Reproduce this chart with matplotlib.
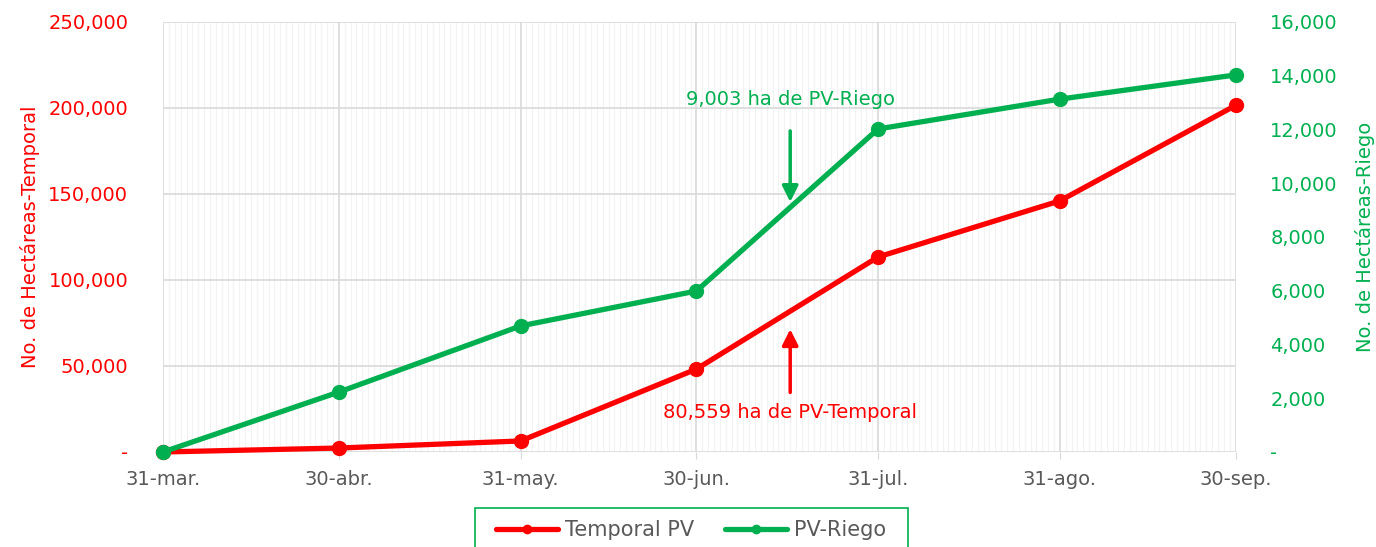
import datetime as dt

import matplotlib
matplotlib.use("Agg")
import matplotlib.dates as mdates
import matplotlib.pyplot as plt
from matplotlib.patches import Rectangle
from matplotlib.ticker import FuncFormatter, MultipleLocator

# Values (cumulative hectares).
dates = [
    dt.date(2024, 3, 31),
    dt.date(2024, 4, 30),
    dt.date(2024, 5, 31),
    dt.date(2024, 6, 30),
    dt.date(2024, 7, 31),
    dt.date(2024, 8, 31),
    dt.date(2024, 9, 30),
]
date_labels = ["31-mar.", "30-abr.", "31-may.", "30-jun.", "31-jul.", "31-ago.", "30-sep."]
temporal = [0, 2300, 6400, 48200, 113400, 146000, 201500]
riego = [0, 2230, 4690, 5990, 12020, 13130, 14030]

# Annotation callouts
note_date = dt.date(2024, 7, 16)
riego_note = "9,003 ha de PV-Riego"
temporal_note = "80,559 ha de PV-Temporal"

RED = "#FF0000"
GREEN = "#00B050"
GRAY = "#595959"

plt.rcParams["font.family"] = ["DejaVu Sans"]


def dash_zero(v, _pos):
    # Excel accounting style: zero shows as a dash
    if abs(v) < 1e-9:
        return "-"
    return f"{v:,.0f}"


fig = plt.figure(figsize=(13.76, 5.47), dpi=100)
ax = fig.add_axes([0.1185, 0.1737, 0.898 - 0.1185, 0.9598 - 0.1737])
ax2 = ax.twinx()

x = mdates.date2num(dates)

ax.plot(x, temporal, color=RED, lw=3.8, marker="o", ms=10, label="Temporal PV",
        solid_capstyle="round", zorder=3, clip_on=False)
ax2.plot(x, riego, color=GREEN, lw=3.8, marker="o", ms=10, label="PV-Riego",
         solid_capstyle="round", zorder=3, clip_on=False)

ax.set_xlim(x[0], x[-1])
ax.set_ylim(0, 250000)
ax2.set_ylim(0, 16000)

ax.set_xticks(x)
ax.set_xticklabels(date_labels)
ax.xaxis.set_minor_locator(mdates.DayLocator())
ax.yaxis.set_major_locator(MultipleLocator(50000))
ax2.yaxis.set_major_locator(MultipleLocator(2000))
ax.yaxis.set_major_formatter(FuncFormatter(dash_zero))
ax2.yaxis.set_major_formatter(FuncFormatter(dash_zero))

ax.grid(True, which="major", color="#D9D9D9", lw=1.2)
ax.grid(True, which="minor", axis="x", color="#F2F2F2", lw=0.8)
ax.set_axisbelow(True)

for a in (ax, ax2):
    for s in a.spines.values():
        s.set_visible(False)

ax.tick_params(axis="x", which="major", colors="#D9D9D9", labelcolor=GRAY,
               labelsize=14, length=5, pad=8)
ax.tick_params(axis="x", which="minor", length=0)
ax.tick_params(axis="y", colors=RED, labelsize=14, length=0, pad=25)
ax2.tick_params(axis="y", colors=GREEN, labelsize=14, length=0, pad=25)

ax.set_ylabel("No. de Hectáreas-Temporal", color=RED, fontsize=14, labelpad=6)
ax2.set_ylabel("No. de Hectáreas-Riego", color=GREEN, fontsize=14, labelpad=12)

# Callout arrows
nx = mdates.date2num(note_date)
ax2.annotate("", xy=(nx, 9200), xytext=(nx, 12050),
             arrowprops=dict(arrowstyle="-|>", color=GREEN, lw=2.5, mutation_scale=24))
ax2.text(nx, 13130, riego_note, color=GREEN, fontsize=14, ha="center", va="center")
ax.annotate("", xy=(nx, 73000), xytext=(nx, 33000),
            arrowprops=dict(arrowstyle="-|>", color=RED, lw=2.5, mutation_scale=24))
ax.text(nx, 22700, temporal_note, color=RED, fontsize=14, ha="center", va="center")

# Legend: entries without frame, plus an Excel-like box cut off by the bottom edge
h1, l1 = ax.get_legend_handles_labels()
h2, l2 = ax2.get_legend_handles_labels()
leg = fig.legend(h1 + h2, l1 + l2, loc="center", bbox_to_anchor=(0.502, 0.031),
                 ncol=2, fontsize=15, frameon=False, markerscale=0.6,
                 handlelength=3, handletextpad=0.3, borderpad=0, borderaxespad=0,
                 columnspacing=1.5)
for t in leg.get_texts():
    t.set_color(GRAY)

fig.patches.append(Rectangle((475 / 1376, -0.05), (908 - 475) / 1376, 0.05 + 1 - 508 / 547,
                             transform=fig.transFigure, fill=False, edgecolor=GREEN, lw=1.2))

fig.savefig("out.png", dpi=100)
